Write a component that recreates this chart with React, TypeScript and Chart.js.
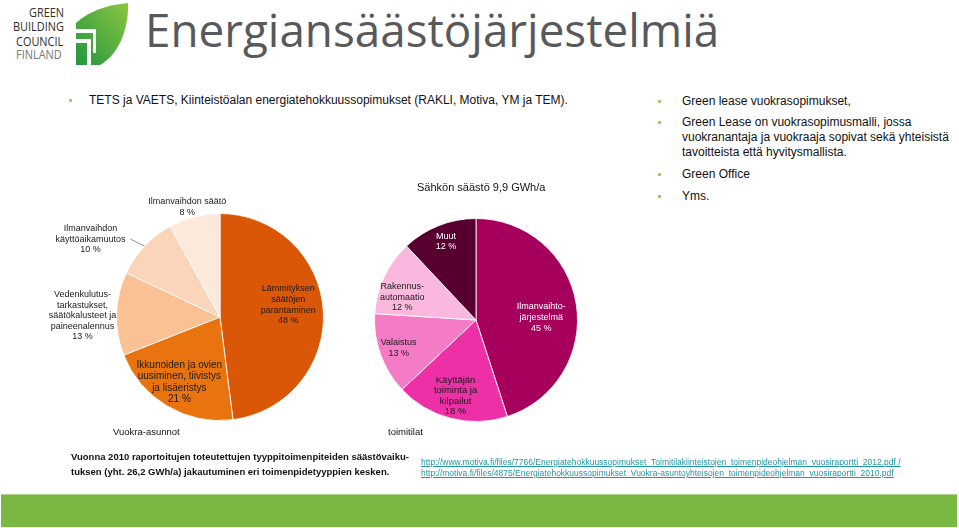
import React, { useEffect, useRef } from "react";
import { Chart, registerables } from "chart.js";
Chart.register(...registerables);

// ---------- data ----------
const rentalCategories: string[][] = [
  ["Lämmityksen", "säätöjen", "parantaminen"],
  ["Ikkunoiden ja ovien", "uusiminen, tiivistys", "ja lisäeristys"],
  ["Vedenkulutus-", "tarkastukset,", "säätökalusteet ja", "paineenalennus"],
  ["Ilmanvaihdon", "käyttöaikamuutos"],
  ["Ilmanvaihdon säätö"],
];
const rentalValues = [48, 21, 13, 10, 8];

const officeCategories: string[][] = [
  ["Ilmanvaihto-", "järjestelmä"],
  ["Käyttäjän", "toiminta ja", "kilpailut"],
  ["Valaistus"],
  ["Rakennus-", "automaatio"],
  ["Muut"],
];
const officeValues = [45, 18, 13, 12, 12];

const officeTitle = "Sähkön säästö 9,9 GWh/a";
const rentalCaption = "Vuokra-asunnot";
const officeCaption = "toimitilat";

// ---------- styles ----------
const rentalColors = ["#da5708", "#e8730f", "#f9c194", "#fbd5ba", "#fde8dc"];
const rentalText = ["#1a1a1a", "#1a1a1a", "#1a1a1a", "#1a1a1a", "#1a1a1a"];
const rentalFont = [9, 10, 9, 9, 9];
const rentalLine = [10.8, 11.5, 10.6, 10.8, 10.8];
const rentalPlace: number[][] = [
  [0.66, 0, -8],
  [0.79, 1, -5],
  [1, -34, 2],
  [1, -54, -7],
  [1, -7, -10],
];
const rentalLeaders: (number[] | null)[] = [null, null, null, [-14, -7], null];

const officeColors = ["#a6005c", "#ee30a6", "#f67bc6", "#fab8de", "#570030"];
const officeText = ["#ffffff", "#1a1a1a", "#1a1a1a", "#1a1a1a", "#ffffff"];
const officeFont = [9, 9.5, 9, 9, 9];
const officeLine = [11, 10.5, 10.5, 10.5, 10.5];
const officePlace: number[][] = [
  [0.65, 0, 8],
  [0.77, -1, 0],
  [0.81, 0, 0],
  [0.76, -4, 10],
  [0.83, 1, 0],
];

const labelPlugin = {
  id: "sliceLabels",
  afterDatasetsDraw(chart: any, _args: any, opts: any) {
    const ctx = chart.ctx;
    const meta = chart.getDatasetMeta(0);
    const ds = chart.data.datasets[0];
    const labels = chart.data.labels;
    meta.data.forEach((arc: any, i: number) => {
      const p = arc.getProps(["x", "y", "startAngle", "endAngle", "outerRadius"], true);
      const mid = (p.startAngle + p.endAngle) / 2;
      const [rf, dx, dy] = opts.place[i];
      const cx = p.x + Math.cos(mid) * p.outerRadius * rf + dx;
      const cy = p.y + Math.sin(mid) * p.outerRadius * rf + dy;
      const lines = [...labels[i], `${ds.data[i]} %`];
      ctx.save();
      ctx.font = `${opts.sizes[i]}px 'Liberation Sans', Arial, sans-serif`;
      ctx.fillStyle = opts.colors[i];
      ctx.textAlign = "center";
      ctx.textBaseline = "middle";
      const lh = opts.lineHeights[i];
      const top = cy - ((lines.length - 1) * lh) / 2;
      lines.forEach((ln: string, k: number) => ctx.fillText(ln, cx, top + k * lh));
      const lead = opts.leaders && opts.leaders[i];
      if (lead) {
        const ex = p.x + Math.cos(mid) * p.outerRadius;
        const ey = p.y + Math.sin(mid) * p.outerRadius;
        ctx.strokeStyle = "#777";
        ctx.lineWidth = 0.8;
        ctx.beginPath();
        ctx.moveTo(ex, ey);
        ctx.lineTo(ex + lead[0], ey + lead[1]);
        ctx.stroke();
      }
      ctx.restore();
    });
  },
};

type PieProps = {
  left: number;
  top: number;
  width: number;
  height: number;
  padding: { left: number; right: number; top: number; bottom: number };
  labels: string[][];
  values: number[];
  colors: string[];
  textColors: string[];
  sizes: number[];
  lineHeights: number[];
  place: number[][];
  leaders?: (number[] | null)[];
};

function Pie(props: PieProps) {
  const ref = useRef<HTMLCanvasElement>(null);
  useEffect(() => {
    if (!ref.current) return;
    const chart = new Chart(ref.current, {
      type: "pie",
      data: {
        labels: props.labels as any,
        datasets: [
          {
            data: props.values,
            backgroundColor: props.colors,
            borderColor: "rgba(255,255,255,0.85)",
            borderWidth: 1,
          },
        ],
      },
      options: {
        responsive: false,
        animation: false,
        events: [],
        layout: { padding: props.padding },
        plugins: {
          legend: { display: false },
          tooltip: { enabled: false },
          sliceLabels: {
            place: props.place,
            colors: props.textColors,
            leaders: props.leaders,
            sizes: props.sizes,
            lineHeights: props.lineHeights,
          },
        } as any,
      },
      plugins: [labelPlugin as any],
    });
    return () => chart.destroy();
  }, []);
  return (
    <canvas
      ref={ref}
      width={props.width}
      height={props.height}
      style={{ position: "absolute", left: props.left, top: props.top, width: props.width, height: props.height }}
    />
  );
}

const abs = (left: number, top: number, extra: React.CSSProperties = {}): React.CSSProperties => ({
  position: "absolute",
  left,
  top,
  whiteSpace: "nowrap",
  ...extra,
});

function Bullet({ x, y }: { x: number; y: number }) {
  return <div style={{ position: "absolute", left: x, top: y, width: 3, height: 3, borderRadius: 1, background: "#93c764" }} />;
}

function Logo() {
  const t: React.CSSProperties = {
    fontFamily: "'Open Sans', 'Noto Sans', sans-serif",
    fontSize: 13.5,
    color: "#2e2e2e",
    lineHeight: "13.5px",
    transform: "scaleX(0.81)",
    transformOrigin: "left top",
  };
  return (
    <>
      <div style={abs(29, 6, t)}>GREEN</div>
      <div style={abs(13, 20, t)}>BUILDING</div>
      <div style={abs(16, 35, t)}>COUNCIL</div>
      <div style={abs(16, 48, { ...t, color: "#777" })}>FINLAND</div>
      <svg style={{ position: "absolute", left: 75, top: 2 }} width={55} height={64} viewBox="0 0 55 64">
        <defs>
          <linearGradient id="lf" x1="1" y1="0" x2="0" y2="1">
            <stop offset="0" stopColor="#8cc63f" />
            <stop offset="1" stopColor="#229640" />
          </linearGradient>
        </defs>
        <path d="M1,21 C14,9 32,3 53,1 C54,24 45,52 25,63 L1,63 Z" fill="url(#lf)" />
        <rect x={1} y={27} width={16} height={4} fill="#fff" />
        <rect x={1} y={37} width={11} height={4} fill="#fff" />
        <rect x={12} y={37} width={4} height={26} fill="#fff" />
        <rect x={17} y={27} width={4} height={4} fill="#fff" />
        <rect x={18} y={27} width={3} height={24} fill="#fff" />
      </svg>
    </>
  );
}

export default function App() {
  const body: React.CSSProperties = { fontFamily: "'Liberation Sans', Arial, sans-serif", color: "#111" };
  const b12: React.CSSProperties = { fontSize: 12, lineHeight: "15px" };
  return (
    <div style={{ position: "absolute", left: 0, top: 0, width: 959, height: 528, background: "#fff", overflow: "hidden", ...body }}>
      <Logo />
      <div
        style={abs(145, 7, {
          fontFamily: "'Open Sans', sans-serif",
          fontSize: 45.8,
          lineHeight: "45.8px",
          color: "#58595b",
        })}
      >
        Energiansäästöjärjestelmiä
      </div>

      <Bullet x={69} y={99} />
      <div style={abs(89, 93, b12)}>TETS ja VAETS, Kiinteistöalan energiatehokkuussopimukset (RAKLI, Motiva, YM ja TEM).</div>

      <Bullet x={658} y={100} />
      <div style={abs(682, 94, b12)}>Green lease vuokrasopimukset,</div>
      <Bullet x={658} y={121} />
      <div style={abs(682, 115, b12)}>
        Green Lease on vuokrasopimusmalli, jossa
        <br />
        vuokranantaja ja vuokraaja sopivat sekä yhteisistä
        <br />
        tavoitteista että hyvitysmallista.
      </div>
      <Bullet x={658} y={173} />
      <div style={abs(682, 167, b12)}>Green Office</div>
      <Bullet x={658} y={195} />
      <div style={abs(682, 189, b12)}>Yms.</div>

      <Pie
        left={40}
        top={180}
        width={330}
        height={270}
        padding={{ left: 76, right: 46, top: 33, bottom: 29 }}
        labels={rentalCategories}
        values={rentalValues}
        colors={rentalColors}
        textColors={rentalText}
        sizes={rentalFont}
        lineHeights={rentalLine}
        place={rentalPlace}
        leaders={rentalLeaders}
      />
      <Pie
        left={360}
        top={200}
        width={240}
        height={240}
        padding={{ left: 14, right: 22, top: 18, bottom: 18 }}
        labels={officeCategories}
        values={officeValues}
        colors={officeColors}
        textColors={officeText}
        sizes={officeFont}
        lineHeights={officeLine}
        place={officePlace}
      />

      <div style={abs(417, 180, { fontSize: 11, lineHeight: "14px" })}>{officeTitle}</div>
      <div style={abs(113, 426, { fontSize: 9.5, lineHeight: "12px" })}>{rentalCaption}</div>
      <div style={abs(388, 426, { fontSize: 9.5, lineHeight: "12px" })}>{officeCaption}</div>

      <div style={abs(71, 449, { fontSize: 9.5, lineHeight: "15px", fontWeight: 700 })}>
        Vuonna 2010 raportoitujen toteutettujen tyyppitoimenpiteiden säästövaiku-
        <br />
        tuksen (yht. 26,2 GWh/a) jakautuminen eri toimenpidetyyppien kesken.
      </div>

      <div style={abs(421, 457, { fontSize: 8.5, lineHeight: "11px", color: "#2196a6", textDecoration: "underline" })}>
        http://www.motiva.fi/files/7766/Energiatehokkuussopimukset_Toimitilakiinteistojen_toimenpideohjelman_vuosiraportti_2012.pdf /
        <br />
        http://motiva.fi/files/4875/Energiatehokkuussopimukset_Vuokra-asuntoyhteisojen_toimenpideohjelman_vuosiraportti_2010.pdf
      </div>

      <div style={{ position: "absolute", left: 1, top: 494, width: 956, height: 33, background: "#79b943", borderTop: "1px solid #a9d28a", boxSizing: "border-box" }} />
    </div>
  );
}
